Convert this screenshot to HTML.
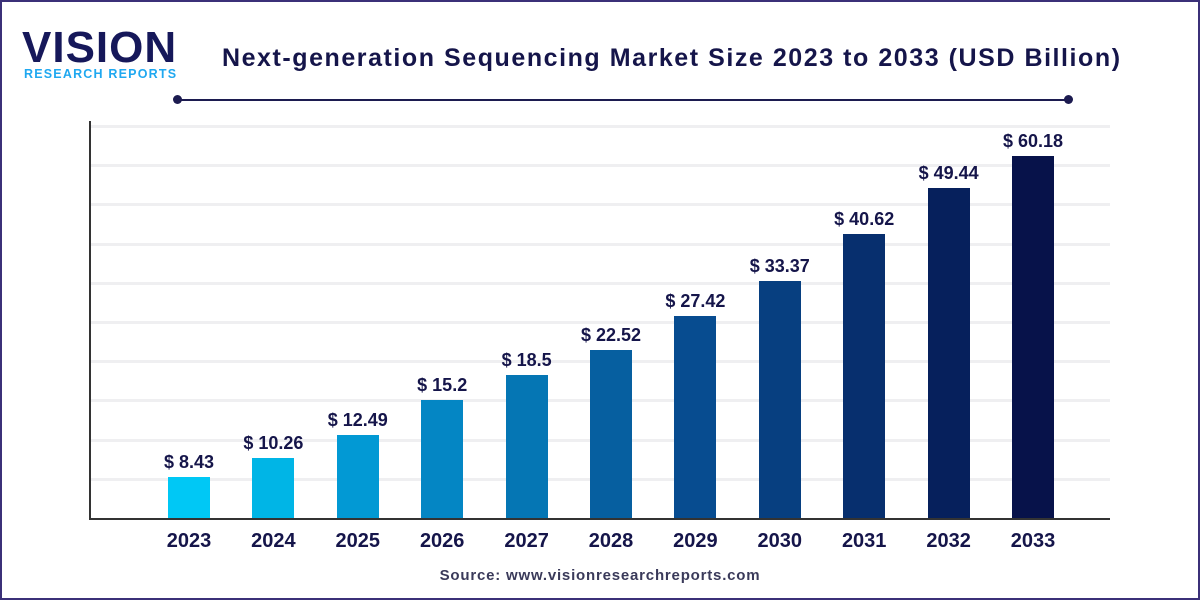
<!DOCTYPE html>
<html><head><style>
body{margin:0}
.w{position:relative;width:1200px;height:600px;background:#fff;font-family:"Liberation Sans",sans-serif;overflow:hidden}
.fr{position:absolute;left:0;top:0;width:1196px;height:596px;border:2px solid #3b3078}
.t{position:absolute;left:222px;top:44px;font-size:25px;font-weight:bold;color:#15154a;letter-spacing:1.55px;white-space:nowrap}
.l{position:absolute;top:99px;left:176px;width:894px;height:2px;background:#1c1b50}
.d{position:absolute;top:95px;width:9px;height:9px;border-radius:50%;background:#1c1b50}
.g{position:absolute;left:90px;width:1020px;height:3px;background:#efeff1}
.b{position:absolute;width:42px}
.v{position:absolute;width:120px;text-align:center;font-size:18px;font-weight:bold;color:#15154a}
.x{position:absolute;top:530px;width:120px;text-align:center;font-size:20px;font-weight:bold;color:#15154a}
</style></head><body><div class="w">
<div class="fr"></div>
<div style="position:absolute;left:22px;top:26px;font-size:44px;font-weight:bold;color:#16185a;letter-spacing:1px;line-height:44px">VISION</div>
<div style="position:absolute;left:24px;top:67px;font-size:12.5px;font-weight:bold;color:#1fa8f0;letter-spacing:1.2px">RESEARCH REPORTS</div>
<div class="t">Next-generation Sequencing Market Size 2023 to 2033 (USD Billion)</div>
<div class="l"></div><div class="d" style="left:173px"></div><div class="d" style="left:1064px"></div>
<div id="c"></div>
<div style="position:absolute;left:89px;top:121px;width:2px;height:399px;background:#333"></div>
<div style="position:absolute;left:89px;top:518px;width:1021px;height:2px;background:#333"></div>
<div style="position:absolute;left:0;width:1200px;top:567px;text-align:center;font-size:15px;letter-spacing:0.8px;font-weight:bold;color:#3a3a5a">Source: www.visionresearchreports.com</div>
</div>
<script>
var c=document.getElementById('c'),h='';
for(var i=0;i<10;i++)h+='<div class="g" style="top:'+(125+i*39.2)+'px"></div>';
var v=['8.43','10.26','12.49','15.2','18.5','22.52','27.42','33.37','40.62','49.44','60.18'];
var tp=[477,458,435,400,375,350,316,281,234,188,156];
var col=['#00c8f5','#00b5e6','#0299d4','#0486c4','#0576b4','#065fa0','#074c90','#073f80','#072f6e','#06205c','#07124a'];
for(var i=0;i<11;i++){var x=168+i*84.4;
h+='<div class="b" style="left:'+x+'px;top:'+tp[i]+'px;height:'+(518-tp[i])+'px;background:'+col[i]+'"></div>';
h+='<div class="v" style="left:'+(x-39)+'px;top:'+(tp[i]-25)+'px">$ '+v[i]+'</div>';
h+='<div class="x" style="left:'+(x-39)+'px">'+(2023+i)+'</div>';}
c.innerHTML=h;
</script></body></html>
